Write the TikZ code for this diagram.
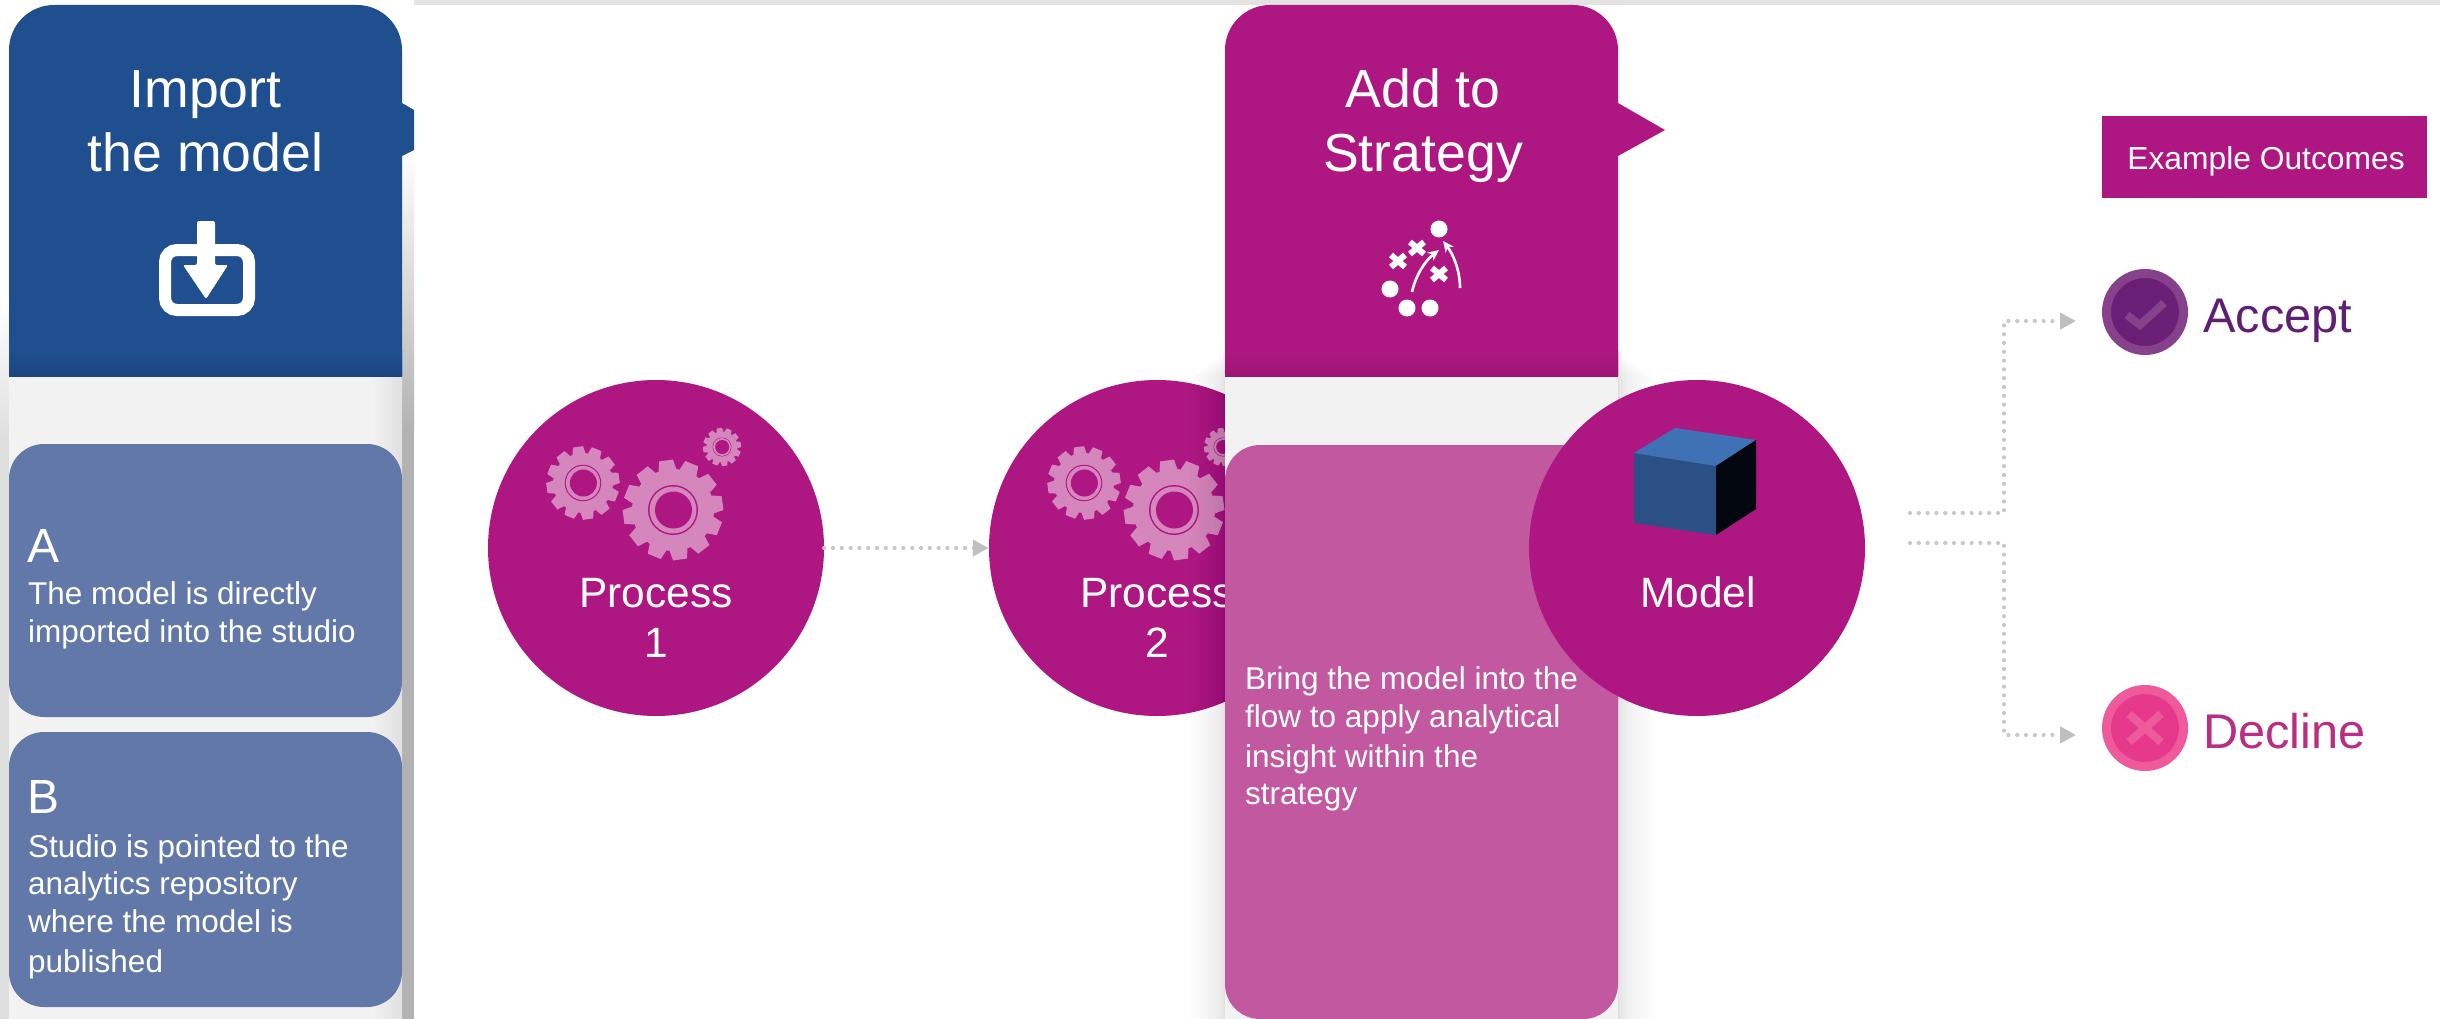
\documentclass[tikz,border=0pt]{standalone}
\usepackage{fontspec}
\setmainfont{Liberation Sans}
\usetikzlibrary{arrows.meta}
\definecolor{headblue}{HTML}{1F4F8F}
\definecolor{headbluedark}{HTML}{1B447F}
\definecolor{cardblue}{HTML}{6278A8}
\definecolor{magen}{HTML}{AE1782}
\definecolor{magendark}{HTML}{9D1574}
\definecolor{cardmagen}{HTML}{C158A0}
\definecolor{gearpink}{HTML}{D586BD}
\definecolor{flowgrey}{HTML}{C8C8C8}
\definecolor{tipgrey}{HTML}{BFBFBF}
\definecolor{colgrey}{HTML}{F2F2F2}
\definecolor{acceptdark}{HTML}{6A1F77}
\definecolor{acceptring}{HTML}{85428B}
\definecolor{acceptink}{HTML}{5F2073}
\definecolor{declinedark}{HTML}{E6398B}
\definecolor{declinering}{HTML}{EE5A9B}
\definecolor{declineink}{HTML}{B92D83}
\definecolor{cubetop}{HTML}{3F72B5}
\definecolor{cubefront}{HTML}{2A5085}
\definecolor{cubeside}{HTML}{02060E}
\tikzset{
  bigcirc/.style={circle,fill=magen,minimum size=336pt,inner sep=0},
  card/.style={rounded corners=35pt,minimum width=393pt,inner sep=0},
  headtext/.style={text=white,inner sep=0,align=center,font=\fontsize{53.6}{64}\selectfont},
  circtext/.style={text=white,inner sep=0,align=center,font=\fontsize{42.4}{50}\selectfont},
  letter/.style={text=white,inner sep=0,font=\fontsize{48}{48}\selectfont},
  body/.style={text=white,inner sep=0,align=left,font=\fontsize{31.5}{38.2}\selectfont},
  outcome/.style={inner sep=0,font=\fontsize{48.7}{48}\selectfont},
  flowline/.style={flowgrey,line width=4.2pt,line cap=round,dash pattern=on 0pt off 8.8pt,
    -{Triangle[length=16pt,width=16pt,color=tipgrey]}},
  playline/.style={white,line width=2.6pt,-{Stealth[length=11pt,width=10pt]}},
  gear/.pic={
    \foreach \a in {0,30,...,330}
      \fill[gearpink,rotate=\a+8] (-9,-40) -- (-7,-50) -- (7,-50) -- (9,-40) -- cycle;
    \fill[gearpink] (0,0) circle (41);
    \fill[magen] (0,0) circle (25);
    \fill[gearpink] (0,0) circle (23.5);
    \fill[magen] (0.5,0) circle (18.5);
  }
}
\begin{document}
\begin{tikzpicture}[x=1pt,y=-1pt,>=stealth]
\useasboundingbox (0,0) rectangle (2440,1019);
\fill[white] (0,0) rectangle (2440,1019);
\fill[black!11] (414,0) rectangle (2440,5);
% process circles
\node[bigcirc] (procA) at (656,548) {};
\node[bigcirc] (procB) at (1157,548) {};
\foreach \dx in {0,501} {
  \pic[scale=0.73] at (583+\dx,483) {gear};
  \pic[scale=1] at (673+\dx,510) {gear};
  \pic[scale=0.38] at (722+\dx,447) {gear};
}
\node[circtext,anchor=base] (procAlabel) at (656,607) {Process};
\node[circtext,anchor=base] (procAnum) at (656,657) {1};
\node[circtext,anchor=base] (procBlabel) at (1157,607) {Process};
\node[circtext,anchor=base] (procBnum) at (1157,657) {2};
\draw[flowline] (procA) -- (procB);
% left column
\shade[top color=white,bottom color=black!30] (402,150) rectangle (414,430);
\fill[black!30] (402,430) rectangle (414,1019);
\shade[top color=white,bottom color=black!13] (0,300) rectangle (9,440);
\fill[black!13] (0,440) rectangle (9,1019);
\fill[colgrey] (9,376) rectangle (402,1019);
\shade[left color=colgrey,right color=black!12] (372,376) rectangle (402,1019);
\fill[headblue] (402,103) -- (414,110) -- (414,150) -- (402,156) -- cycle;
\fill[headblue] (9,376) [rounded corners=45pt] -- (9,5) -- (402,5) [sharp corners] -- (402,376) -- cycle;
\shade[top color=headblue,bottom color=headbluedark] (9,350) rectangle (402,376);
\node[headtext,anchor=base] (importa) at (205.5,108) {Import};
\node[headtext,anchor=base] (importb) at (205.5,172) {the model};
\draw[white,line width=12pt,rounded corners=12pt] (165,250) rectangle (249,310);
\fill[white,rounded corners=2pt] (197,221) -- (215,221) -- (215,265) -- (228,265) -- (206,299) -- (183,265) -- (197,265) -- cycle;
\node[card,fill=cardblue,minimum height=273pt] (cardA) at (205.5,580.5) {};
\node[letter,anchor=base west] (cardAletter) at (27,562) {A};
\node[body,anchor=base west] (cardAone) at (28,604) {The model is directly};
\node[body,anchor=base west] (cardAtwo) at (28,642) {imported into the studio};
\node[card,fill=cardblue,minimum height=275pt] (cardB) at (205.5,869.5) {};
\node[letter,anchor=base west] (cardBletter) at (27,813) {B};
\node[body,anchor=base west] (cardBone) at (28,857) {Studio is pointed to the};
\node[body,anchor=base west] (cardBtwo) at (28,894) {analytics repository};
\node[body,anchor=base west] (cardBthree) at (28,932) {where the model is};
\node[body,anchor=base west] (cardBfour) at (28,972) {published};
% second column
\foreach \i in {1,...,16} {
  \fill[black,opacity=0.008] (1225-0.14*\i*\i,340+2.2*\i) rectangle (1225,1019);
  \fill[black,opacity=0.008] (1618,340+2.2*\i) rectangle (1618+0.14*\i*\i,1019);
}
\fill[colgrey] (1225,376) rectangle (1618,1019);
\fill[magen] (1618,103) -- (1665,130) -- (1618,156) -- cycle;
\fill[magen] (1225,376) [rounded corners=45pt] -- (1225,5) -- (1618,5) [sharp corners] -- (1618,376) -- cycle;
\shade[top color=magen,bottom color=magendark] (1225,350) rectangle (1618,376);
\node[headtext,anchor=base] (adda) at (1423,108) {Add to};
\node[headtext,anchor=base] (addb) at (1423,172) {Strategy};
\foreach \p in {(1439,229),(1390,289),(1407,308),(1430,308)}
  \fill[white] \p circle (8.5);
\foreach \p in {(1398,261),(1417,248),(1439,274)}
  \draw[white,line width=6pt] \p +(-7,-6) -- +(7,6) \p +(-7,6) -- +(7,-6);
\draw[playline] (1412,292) .. controls (1416,274) and (1426,260) .. (1439,250);
\draw[playline] (1460,288) .. controls (1460,270) and (1453,254) .. (1443,241);
\node[card,fill=cardmagen,minimum height=574pt] (cardC) at (1421.5,732) {};
\node[body,anchor=base west] (cardCone) at (1245,689) {Bring the model into the};
\node[body,anchor=base west] (cardCtwo) at (1245,727) {flow to apply analytical};
\node[body,anchor=base west] (cardCthree) at (1245,767) {insight within the};
\node[body,anchor=base west] (cardCfour) at (1245,804) {strategy};
% model
\node[bigcirc] (model) at (1697,548) {};
\fill[cubefront] (1634,453) -- (1716,466) -- (1716,535) -- (1634,523) -- cycle;
\fill[cubetop] (1634,453) -- (1675,428) -- (1756,440) -- (1716,466) -- cycle;
\fill[cubeside] (1716,466) -- (1756,440) -- (1756,509) -- (1716,535) -- cycle;
\node[circtext,anchor=base] (modellabel) at (1698,607) {Model};
% outcomes
\node[fill=magen,minimum width=325pt,minimum height=82pt,inner sep=0] (outcomes) at (2264.5,157) {};
\node[text=white,inner sep=0,anchor=base,font=\fontsize{31.8}{32}\selectfont] (outcomestext) at (2266,170) {Example Outcomes};
\node[circle,fill=acceptdark,draw=acceptring,line width=9pt,minimum size=77pt,inner sep=0] (accept) at (2145,312) {};
\draw[acceptring,line width=8pt] (2127,315) -- (2140,325) -- (2164,303);
\node[circle,fill=declinedark,draw=declinering,line width=9pt,minimum size=77pt,inner sep=0] (decline) at (2145,728) {};
\draw[declinering,line width=8pt] (2129,714) -- (2161,742) (2129,742) -- (2161,714);
\node[outcome,text=acceptink,anchor=base west] (acceptlabel) at (2203,332) {Accept};
\node[outcome,text=declineink,anchor=base west] (declinelabel) at (2203,748) {Decline};
\coordinate (upfrom) at (1910,513);
\coordinate (upto) at (2076,321);
\coordinate (downfrom) at (1910,543);
\coordinate (downto) at (2076,735);
\draw[flowline] (upfrom) -| (2004,321) -- (upto);
\draw[flowline] (downfrom) -| (2004,735) -- (downto);
\end{tikzpicture}
\end{document}
